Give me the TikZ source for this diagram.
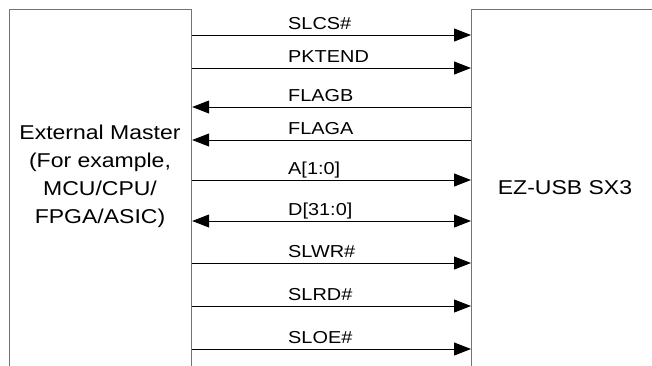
\documentclass[tikz,border=0pt]{standalone}
\usepackage{fontspec}
\setmainfont{Liberation Sans}[FakeStretch=1.15]
\usepackage{xcolor}
\usetikzlibrary{arrows.meta,positioning}
\definecolor{boxgray}{RGB}{115,115,115}

\begin{document}
\begin{tikzpicture}[x=1pt,y=-1pt,
    block/.style={rectangle, draw=boxgray, line width=1.2pt, minimum width=182pt, minimum height=420pt, anchor=north west, inner sep=0pt},
    blocktext/.style={align=center, font=\fontsize{20}{28}\selectfont},
    siglabel/.style={anchor=base west, inner sep=0pt, font=\fontsize{17.3}{20}\selectfont},
    sig/.style={line width=0.9pt},
    tosx/.style={-{Triangle[length=17pt,width=13pt]}},
    tomaster/.style={{Triangle[length=17pt,width=13pt]}-},
    both/.style={{Triangle[length=17pt,width=13pt]}-{Triangle[length=17pt,width=13pt]}}
]
    \useasboundingbox (0,0) rectangle (652,365);

    % Blocks (open at the bottom, cut by the picture edge)
    \node[block] (master) at (9,9) {};
    \node[block] (sx3) at (471,9) {};
    \node[blocktext] (mastertext) at (100,176) {External Master\\(For example,\\MCU/CPU/\\FPGA/ASIC)};
    \node[blocktext] (sx3text) at (565,188) {EZ-USB SX3};

    % Interface signals
    \foreach \y/\name/\dir in {35/SLCS\#/tosx, 68/PKTEND/tosx, 107/FLAGB/tomaster,
        140/FLAGA/tomaster, 180/A[1:0]/tosx, 221/D[31:0]/both,
        263/SLWR\#/tosx, 306/SLRD\#/tosx, 349/SLOE\#/tosx} {
        \path (0,\y) coordinate (lvl);
        \draw[sig, \dir] (master.east |- lvl) -- (sx3.west |- lvl);
        \node[siglabel] (lab\y) at (288,\y-6) {\name};
    }
\end{tikzpicture}
\end{document}
